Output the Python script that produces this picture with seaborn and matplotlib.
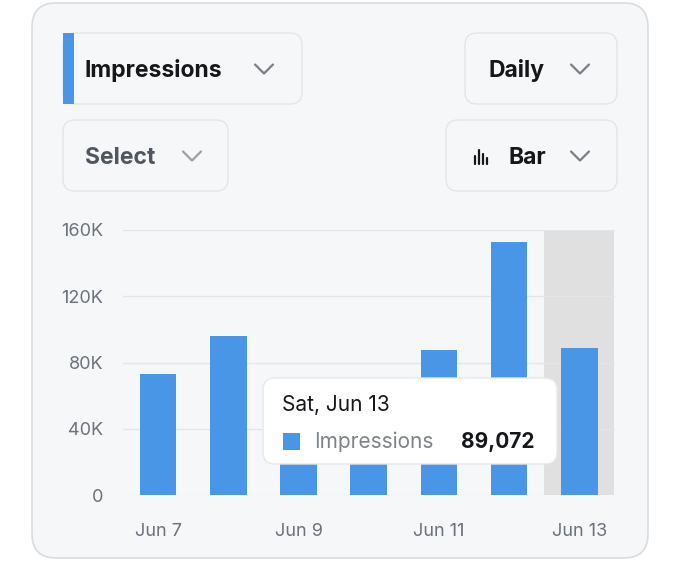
import matplotlib
matplotlib.use("Agg")
import matplotlib.pyplot as plt
import seaborn as sns
import pandas as pd
from matplotlib.patches import FancyBboxPatch, Rectangle
from matplotlib.lines import Line2D

days = ["Jun 7", "Jun 8", "Jun 9", "Jun 10", "Jun 11", "Jun 12", "Jun 13"]
impressions = [73000, 96000, 62000, 55000, 87700, 153000, 89072]
yticks = [0, 40000, 80000, 120000, 160000]
ytick_labels = ["0", "40K", "80K", "120K", "160K"]
xtick_labels = ["Jun 7", "", "Jun 9", "", "Jun 11", "", "Jun 13"]

sns.set_style("white")
plt.rcParams['font.family'] = ['Inter', 'DejaVu Sans']

W, H = 680, 586
fig = plt.figure(figsize=(6.8, 5.86), dpi=100)
fig.patch.set_facecolor("white")

def box(x0, y0, x1, y1, r, fc, ec, lw=1, z=0):
    p = FancyBboxPatch((x0 / W, 1 - y1 / H), (x1 - x0) / W, (y1 - y0) / H,
                       boxstyle=f"round,pad=0,rounding_size={r / W}",
                       transform=fig.transFigure, fc=fc, ec=ec, lw=lw, zorder=z,
                       mutation_aspect=W / H)
    fig.patches.append(p)
    return p

def chev(x, y, c):
    fig.lines.append(Line2D([(x - 9) / W, x / W, (x + 9) / W],
                            [1 - (y - 4.5) / H, 1 - (y + 4.5) / H, 1 - (y - 4.5) / H],
                            transform=fig.transFigure, color=c, lw=1.6, zorder=1))

box(32, 3, 648, 558, 24, "#f6f7f8", "#d9dce0", 1.2)
box(63, 33, 302, 104, 12, "#f6f7f8", "#e3e5e8")
fig.patches.append(Rectangle((63 / W, 1 - 104 / H), 11 / W, 71 / H, transform=fig.transFigure,
                             fc="#4a96e6", ec="none", zorder=1))
box(465, 33, 617, 104, 12, "#f6f7f8", "#e3e5e8")
box(63, 120, 228, 191, 12, "#f6f7f8", "#e3e5e8")
box(446, 120, 617, 191, 12, "#f6f7f8", "#e3e5e8")

def t(x, y, s, **kw):
    fig.text(x / W, 1 - y / H, s, va="center", **kw)

t(85, 71, "Impressions", fontsize=16.5, fontweight="bold", color="#15171a")
chev(264, 69, "#7a7f87")
t(489, 71, "Daily", fontsize=16.5, fontweight="bold", color="#15171a")
chev(580, 69, "#7a7f87")
t(85, 158, "Select", fontsize=16.5, fontweight="bold", color="#4f5660")
chev(192, 156, "#9aa0a8")
for i, h in enumerate([8, 14, 10, 6]):
    fig.lines.append(Line2D([(475 + 4 * i) / W] * 2, [1 - 164 / H, 1 - (164 - h) / H],
                            transform=fig.transFigure, color="#15171a", lw=1.6, zorder=1))
t(509, 158, "Bar", fontsize=16.5, fontweight="bold", color="#15171a")
chev(580, 156, "#7a7f87")

ax = fig.add_axes([123 / W, 1 - 495.3 / H, 491.5 / W, 265.3 / H])
ax.set_zorder(2)
ax.set_facecolor("#f6f7f8")
ax.axvspan(5.5, 6.5, color="#e0e0e0", zorder=0)
df = pd.DataFrame({"day": days, "value": impressions})
sns.barplot(data=df, x="day", y="value", color="#4a96e6", saturation=1, width=0.52, ax=ax, zorder=2)
for b in ax.patches:
    b.set_edgecolor("none")
ax.set_xlim(-0.5, 6.5)
ax.set_ylim(0, 160000)
ax.set_yticks(yticks)
ax.set_yticklabels(ytick_labels)
ax.set_xticks(range(len(days)))
ax.set_xticklabels(xtick_labels)
ax.yaxis.grid(True, color="#e3e5e8", lw=1, zorder=1)
ax.set_axisbelow(True)
for s in ax.spines.values():
    s.set_visible(False)
ax.tick_params(axis="both", length=0, labelsize=13, colors="#6b727c")
ax.tick_params(axis="x", pad=20)
ax.tick_params(axis="y", pad=14)
ax.set_xlabel("")
ax.set_ylabel("")

box(263, 378, 557, 464, 12, "white", "#e6e8eb", 1, z=5)
t(282, 405, "Sat, Jun 13", fontsize=15, color="#15171a", zorder=6)
fig.patches.append(Rectangle((283 / W, 1 - 450 / H), 17 / W, 17 / H, transform=fig.transFigure,
                             fc="#4a96e6", ec="none", zorder=6))
t(314, 442, "Impressions", fontsize=15, color="#7d838c", zorder=6)
t(461, 442, "89,072", fontsize=15, fontweight="bold", color="#15171a", zorder=6)

fig.savefig("out.png", dpi=100, facecolor="white")
